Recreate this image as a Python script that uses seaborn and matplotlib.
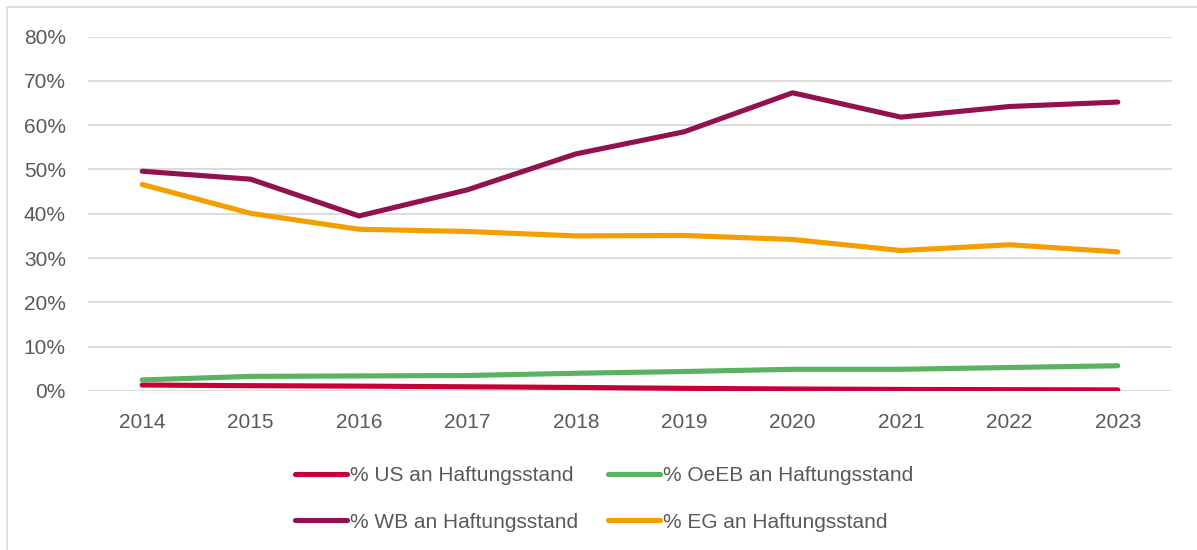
import pandas as pd
import numpy as np
import matplotlib
matplotlib.use("Agg")
import matplotlib.pyplot as plt
import seaborn as sns
from matplotlib.patches import Rectangle
from matplotlib.ticker import PercentFormatter

# Werte (Anteil am Haftungsstand)
years = [2014, 2015, 2016, 2017, 2018, 2019, 2020, 2021, 2022, 2023]
us = [0.0135, 0.012, 0.011, 0.0095, 0.008, 0.006, 0.0045, 0.0035, 0.003, 0.0025]
oeeb = [0.025, 0.033, 0.034, 0.035, 0.040, 0.044, 0.049, 0.049, 0.053, 0.057]
wb = [0.496, 0.478, 0.395, 0.454, 0.535, 0.585, 0.673, 0.618, 0.642, 0.652]
eg = [0.466, 0.401, 0.365, 0.360, 0.350, 0.351, 0.342, 0.317, 0.330, 0.314]

labels = ["% US an Haftungsstand", "% OeEB an Haftungsstand",
          "% WB an Haftungsstand", "% EG an Haftungsstand"]
colors = ["#C8003A", "#5CB263", "#941151", "#F59E00"]

df = pd.concat([
    pd.DataFrame({"Jahr": years, "Anteil": vals, "Reihe": lab})
    for vals, lab in zip([us, oeeb, wb, eg], labels)
], ignore_index=True)

sns.set_theme(style="white")
plt.rcParams['font.family'] = ['Liberation Sans', 'DejaVu Sans']
text_col = "#595959"
grid_col = "#D9D9D9"

fig = plt.figure(figsize=(11.97, 5.50), dpi=100)
ax = fig.add_axes([88 / 1197, 1 - 391 / 550, (1172 - 88) / 1197, (391 - 36.5) / 550])

sns.lineplot(data=df, x="Jahr", y="Anteil", hue="Reihe", hue_order=labels,
             palette=dict(zip(labels, colors)), linewidth=3.7, ax=ax,
             legend=False)
for ln in ax.get_lines():
    ln.set_solid_capstyle("round")
    ln.set_solid_joinstyle("round")

ax.set_xlim(2013.5, 2023.5)
ax.set_ylim(0, 0.8)
ax.set_yticks(np.arange(0, 0.81, 0.1))
ax.yaxis.set_major_formatter(PercentFormatter(1.0, decimals=0))
ax.set_xticks(years)
ax.set_xlabel("")
ax.set_ylabel("")
ax.grid(axis="y", color=grid_col, linewidth=1.3)
ax.set_axisbelow(True)
for s in ax.spines.values():
    s.set_visible(False)
ax.tick_params(axis="both", length=0, labelsize=15, colors=text_col)
ax.tick_params(axis="y", pad=16)
ax.tick_params(axis="x", pad=16)

# Legende in zwei Zeilen (spaltenweise befüllt)
order = [0, 2, 1, 3]
handles = [plt.Line2D([], [], color=colors[i], linewidth=3.7,
                      solid_capstyle="round") for i in order]
leg = fig.legend(handles, [labels[i] for i in order], ncol=2,
                 loc="center", bbox_to_anchor=(604 / 1197, 1 - 499 / 550),
                 frameon=False, fontsize=15, handlelength=2.5,
                 handletextpad=0.15, columnspacing=1.45, labelspacing=1.3)
for t in leg.get_texts():
    t.set_color(text_col)

# heller Rahmen um das Diagramm
fig.patches.append(Rectangle((7 / 1197, -0.05), 1.2, 1 - 7 / 550 + 0.05,
                             transform=fig.transFigure, fill=False,
                             edgecolor=grid_col, linewidth=1.2))

fig.savefig("out.png", dpi=100)
